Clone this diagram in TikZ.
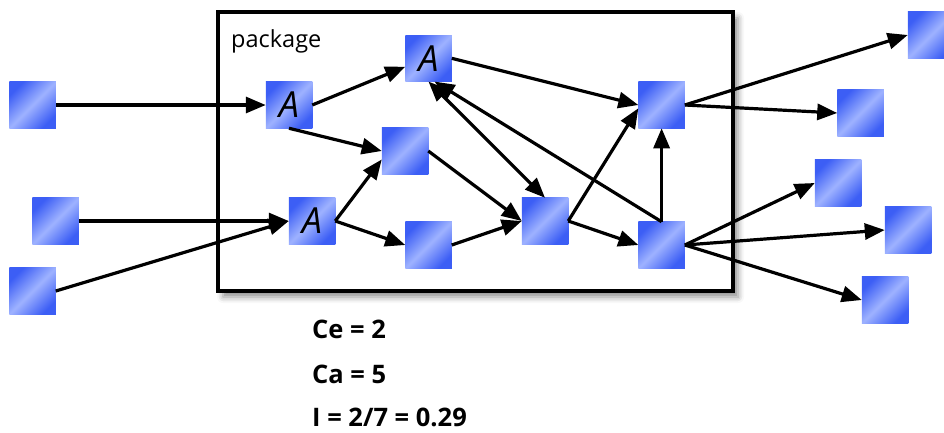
\documentclass[tikz,border=0pt]{standalone}
\usepackage{fontspec}
\setmainfont{Open Sans}
\usetikzlibrary{arrows.meta,shadows.blur}

\definecolor{boxdark}{RGB}{60,94,245}
\definecolor{boxlight}{RGB}{158,178,255}

\tikzset{
  cls/.style={minimum size=46.5pt, inner sep=0pt, outer sep=0pt,
    top color=boxdark, bottom color=boxdark, middle color=boxlight,
    shading angle=45, font=\fontsize{36}{36}\selectfont\itshape},
  tip/.tip={Triangle[length=20pt,width=16pt]},
  dep/.style={line width=3.2pt, -tip},
  bidep/.style={line width=3.2pt, tip-tip},
  pkg/.style={draw=black, line width=3.8pt, fill=white,
    blur shadow={shadow xshift=5pt, shadow yshift=-6pt, shadow blur radius=6pt, shadow opacity=45}},
  metric/.style={anchor=base west, inner sep=0pt, font=\fontsize{25.5}{25.5}\selectfont\bfseries}
}

\begin{document}
\begin{tikzpicture}[x=1pt, y=-1pt]
  \useasboundingbox (0,0) rectangle (944,432);

  % package boundary
  \node[pkg, minimum width=515pt, minimum height=279pt, inner sep=0pt] (pkgbox) at (475.5,151.5) {};
  \node[anchor=base west, inner sep=0pt, font=\fontsize{23.5}{23.5}\selectfont] (pkgname) at (231,47) {package};

  % classes inside the package
  \node[cls] (A1) at (289,105) {A};
  \node[cls] (A2) at (428.5,58.3) {A};
  \node[cls] (A3) at (312,221) {A};
  \node[cls] (M1) at (405,151) {};
  \node[cls] (M2) at (428.5,245) {};
  \node[cls] (C)  at (545,221) {};
  \node[cls] (R1) at (661.6,105) {};
  \node[cls] (R2) at (661.6,245) {};

  % classes outside the package
  \node[cls] (L1) at (32.5,105) {};
  \node[cls] (L2) at (55.7,221) {};
  \node[cls] (L3) at (32.5,291) {};
  \node[cls] (O1) at (931,35) {};
  \node[cls] (O2) at (860.5,113) {};
  \node[cls] (O3) at (838,183) {};
  \node[cls] (O4) at (908,230) {};
  \node[cls] (O5) at (885,300) {};

  % incoming dependencies
  \draw[dep] (L1.east) -- (A1.west);
  \draw[dep] (L2.east) -- (A3.west);
  \draw[dep] (L3.east) -- (A3.west);

  % internal dependencies
  \draw[dep] (A1.east) -- (A2.200);
  \draw[dep] (A1.south) -- (M1.west);
  \draw[dep] (A3.east) -- (M1.200);
  \draw[dep] (A3.east) -- (M2.west);
  \draw[dep] (M1.east) -- (C.west);
  \draw[dep] (M2.east) -- (C.west);
  \draw[dep] (A2.east) -- (R1.west);
  \draw[bidep] (A2.south) -- (C.north);
  \draw[dep] (R2.north) -- ([xshift=6pt]A2.south);
  \draw[dep] (R2.north) -- (R1.south);
  \draw[dep] (C.east) -- (R1.188);
  \draw[dep] (C.east) -- (R2.west);

  % outgoing dependencies
  \draw[dep] (R1.east) -- (O1.west);
  \draw[dep] (R1.east) -- (O2.west);
  \draw[dep] (R2.east) -- (O3.west);
  \draw[dep] (R2.east) -- (O4.west);
  \draw[dep] (R2.east) -- (O5.west);

  % metrics
  \node[metric] (ce) at (312,338) {Ce = 2};
  \node[metric] (ca) at (312,383.5) {Ca = 5};
  \node[metric] (inst) at (312,426) {I = 2/7 = 0.29};
\end{tikzpicture}
\end{document}
